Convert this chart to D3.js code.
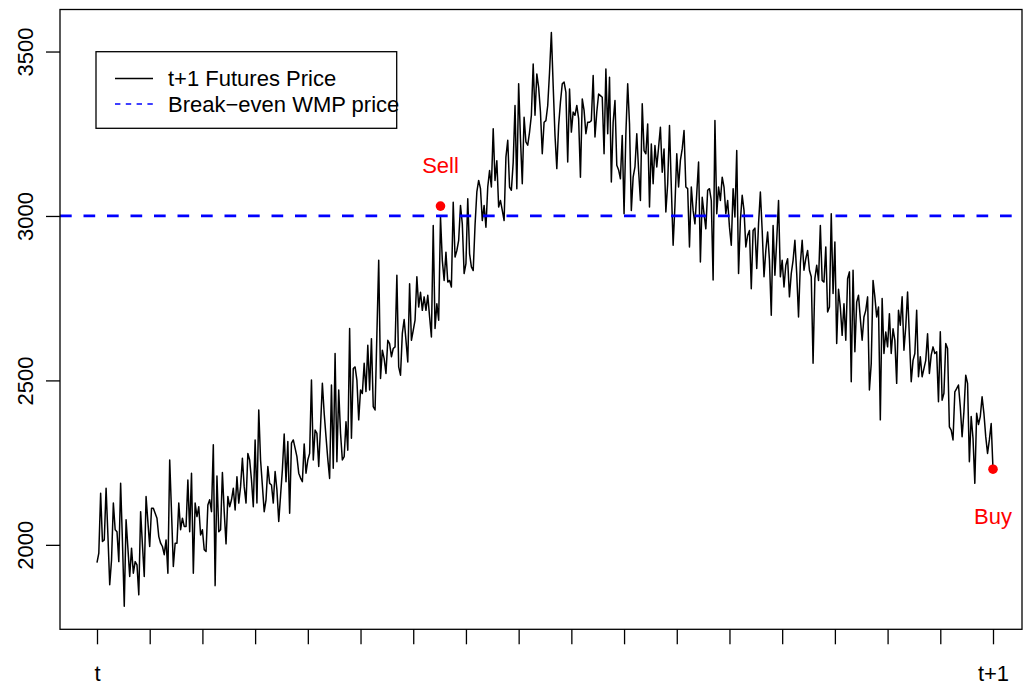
<!DOCTYPE html>
<html>
<head>
<meta charset="utf-8">
<script src="https://cdn.jsdelivr.net/npm/d3@7"></script>
<style>
  body { margin: 0; background: #fff; }
  svg { display: block; }
  text { font-family: "Liberation Sans", Arial, Helvetica, sans-serif; }
</style>
</head>
<body>
<svg id="chart" width="1025" height="685"></svg>
<script>
// ---------- DATA ----------
const price = [
  // t ... early period
  1946, 1975, 2157, 2010, 2015, 2172, 2030, 1879, 1954, 2127, 2046, 2040, 1949, 2187, 2010, 1813, 2076, 1990, 1904, 1990,
  1914, 1949, 1939, 1848, 2101, 2000, 1904, 2147, 2070, 1995, 2111, 2111, 2096, 2081, 2025, 2005, 1995, 1970, 2015, 1914,
  2258, 2100, 1934, 2005, 2005, 2127, 2046, 2081, 2056, 2056, 2197, 2040, 2218, 1914, 2127, 2086, 2116, 2030, 2046, 1985,
  1980, 2121, 2137, 2101, 2304,
  1876, 2209, 2040, 2046, 2220, 2100, 2003, 2147, 2116, 2137, 2172, 2106, 2207, 2127, 2177, 2263, 2177, 2127, 2278, 2258,
  2197, 2116, 2319, 2127, 2410, 2258, 2180, 2101, 2137, 2238, 2187, 2182, 2127, 2223, 2167, 2071, 2150, 2228, 2337, 2192,
  2314, 2096, 2309, 2319, 2294, 2268, 2218, 2203, 2192, 2307,
  2218, 2258, 2278, 2501, 2258, 2349, 2339, 2238, 2360, 2491, 2400, 2329, 2260, 2202, 2486, 2233, 2582, 2253, 2471, 2339,
  2258, 2268, 2374, 2288, 2658, 2324, 2536, 2541, 2501, 2380, 2471, 2460, 2552, 2466, 2607, 2471, 2627, 2420, 2410, 2640,
  2865, 2506, 2592, 2566, 2521, 2622, 2612, 2572, 2597, 2602, 2820, 2541, 2516, 2643, 2685, 2622, 2556, 2794,
  2622, 2652, 2683, 2815, 2723, 2768, 2713, 2754, 2713, 2759, 2693, 2632, 2971, 2658, 2733, 2683, 2997, 2865, 2804, 2890,
  2799, 2804, 2784, 3042, 2875, 2895, 2926, 3032, 2976, 2825, 2855, 3052, 2885, 2845, 2834, 2971, 3073, 3108, 3083, 2986,
  3032, 2966, 3088, 3138, 3088, 3265, 3108, 3168, 3027, 3047, 3017, 2986, 3179, 3230, 3088, 3078, 3163, 3336,
  3083, 3402, 3235, 3098, 3300, 3225, 3215, 3255, 3306, 3462, 3306, 3432, 3391, 3316, 3189, 3285, 3290, 3336, 3437, 3558,
  3396, 3245, 3144, 3275, 3346, 3402, 3407, 3376, 3164, 3386, 3255, 3316, 3306, 3336, 3296, 3118, 3356, 3321, 3250, 3285,
  3285, 3290, 3427, 3240, 3316, 3371, 3366, 3361, 3189, 3447, 3250, 3422, 3103, 3285, 3351, 3154, 3140,
  3113, 3245, 3007, 3250, 3402, 3280, 3017, 3118, 3149, 3250, 3138, 3047, 3341, 3199, 3189, 3280, 3027, 3219, 3098, 3214,
  3149, 3209, 3270, 3133, 3204, 3012, 3098, 3275, 3088, 2911, 3032, 3189, 3088, 3169, 3204, 3260, 3088, 3083, 2906, 3088,
  3017, 2976, 3068, 3164, 2860, 3057, 3007, 2961, 3078, 3083, 3047, 2805, 3290, 3007, 3088, 3047, 3118,
  3088, 3007, 3047, 2966, 2911, 3083, 2997, 3199, 2825, 2986, 3063, 3017, 2906, 2941, 2956, 2779, 2956, 2963, 2840, 2976,
  3073, 2956, 2815, 2895, 2951, 2865, 2698, 2971, 2820, 2926, 3047, 2815, 2865, 2784, 2850, 2870, 2754, 2825, 2865, 2926,
  2825, 2693, 2855, 2926, 2835, 2870, 2895, 2835, 2815, 2552, 2810, 2850, 2804, 2971, 2804, 2799, 2906, 2708,
  2723, 3007, 2764, 2921, 2612, 2777, 2723, 2637, 2733, 2622, 2809, 2830, 2496, 2835, 2587, 2738, 2759, 2688, 2622, 2693,
  2713, 2754, 2471, 2551, 2804, 2754, 2693, 2723, 2380, 2749, 2582, 2647, 2602, 2703, 2582, 2657, 2622, 2491, 2713, 2668,
  2754, 2592, 2663, 2769, 2632, 2496, 2561, 2582, 2713, 2511, 2572, 2511, 2536, 2561, 2642, 2521, 2577, 2602,
  2582, 2587, 2435, 2648, 2440, 2461, 2612, 2597, 2359, 2349, 2319, 2465, 2475, 2486, 2420, 2329, 2405, 2516, 2491, 2253,
  2390, 2324, 2187, 2400, 2366, 2390, 2450, 2400, 2329, 2278, 2319, 2369, 2230
  // ... t+1
];
const breakEven = 3000;
const yTicks = [2000, 2500, 3000, 3500];
const xTickCount = 18;
const xTickLabels = ["t", "", "", "", "", "", "", "", "", "", "", "", "", "", "", "", "", "t+1"];
const markerLabels = ["Sell", "Buy"];
const markerIndex = [189, 493];
const markerValue = [3030, 2230];
const legendLabels = ["t+1 Futures Price", "Break\u2212even WMP price"];

// ---------- LAYOUT ----------
const box = { left: 60, right: 1022, top: 9.5, bottom: 629.3 };
const FS = 22;
const svg = d3.select("#chart");

const N = price.length;
const x = d3.scaleLinear().domain([0, N - 1]).range([97, 993]);

const ext = d3.extent(price.concat(markerValue));
const pad = (ext[1] - ext[0]) * 0.04;
const y = d3.scaleLinear().domain([ext[0] - pad, ext[1] + pad]).range([box.bottom, box.top]);

// clip for plot region
svg.append("defs").append("clipPath").attr("id", "plotclip")
  .append("rect").attr("x", box.left).attr("y", box.top)
  .attr("width", box.right - box.left).attr("height", box.bottom - box.top);

const plot = svg.append("g").attr("clip-path", "url(#plotclip)");

// price line
plot.append("path")
  .datum(price)
  .attr("fill", "none")
  .attr("stroke", "#000")
  .attr("stroke-width", 1.5)
  .attr("stroke-linejoin", "round")
  .attr("d", d3.line().x((d, i) => x(i)).y(d => y(d)));

// break-even line
plot.append("line")
  .attr("x1", box.left).attr("x2", box.right)
  .attr("y1", y(breakEven)).attr("y2", y(breakEven))
  .attr("stroke", "#0000FF")
  .attr("stroke-width", 2.8)
  .attr("stroke-dasharray", "11.7,11.8");

// markers
markerIndex.forEach((mi, k) => {
  plot.append("circle")
    .attr("cx", x(mi)).attr("cy", y(markerValue[k]))
    .attr("r", 4.8).attr("fill", "#FF0000");
});
svg.append("text").attr("x", x(markerIndex[0])).attr("y", y(markerValue[0]) - 33)
  .attr("text-anchor", "middle").attr("font-size", FS).attr("fill", "#FF0000")
  .text(markerLabels[0]);
svg.append("text").attr("x", x(markerIndex[1])).attr("y", y(markerValue[1]) + 55)
  .attr("text-anchor", "middle").attr("font-size", FS).attr("fill", "#FF0000")
  .text(markerLabels[1]);

// frame
svg.append("rect")
  .attr("x", box.left).attr("y", box.top)
  .attr("width", box.right - box.left).attr("height", box.bottom - box.top)
  .attr("fill", "none").attr("stroke", "#000").attr("stroke-width", 1.3);

// x axis
const xTickVals = d3.range(xTickCount).map(k => k * (N - 1) / (xTickCount - 1));
const xAxis = d3.axisBottom(x)
  .tickValues(xTickVals)
  .tickSize(15)
  .tickFormat((d, i) => xTickLabels[i]);
const gx = svg.append("g").attr("transform", `translate(0,${box.bottom})`).call(xAxis);
gx.select(".domain").remove();
gx.selectAll(".tick line").attr("stroke", "#000").attr("stroke-width", 1.3);
gx.selectAll(".tick text")
  .attr("y", 52).attr("dy", 0)
  .attr("font-size", FS).attr("font-family", "Liberation Sans, Arial, sans-serif")
  .attr("fill", "#000");

// y axis
const yAxis = d3.axisLeft(y).tickValues(yTicks).tickSize(14).tickFormat(d3.format("d"));
const gy = svg.append("g").attr("transform", `translate(${box.left},0)`).call(yAxis);
gy.select(".domain").remove();
gy.selectAll(".tick line").attr("stroke", "#000").attr("stroke-width", 1.3);
gy.selectAll(".tick text")
  .attr("x", 0).attr("y", -27).attr("dy", 0)
  .attr("transform", "rotate(-90)")
  .attr("text-anchor", "middle")
  .attr("font-size", FS).attr("font-family", "Liberation Sans, Arial, sans-serif")
  .attr("fill", "#000");

// legend
const lg = svg.append("g");
lg.append("rect").attr("x", 96).attr("y", 51.7).attr("width", 300.7).attr("height", 76.6)
  .attr("fill", "#fff").attr("stroke", "#000").attr("stroke-width", 1.3);
const legY = [78.5, 104];
lg.append("line").attr("x1", 115).attr("x2", 153).attr("y1", legY[0]).attr("y2", legY[0])
  .attr("stroke", "#000").attr("stroke-width", 1.5);
lg.append("line").attr("x1", 115).attr("x2", 153).attr("y1", legY[1]).attr("y2", legY[1])
  .attr("stroke", "#0000FF").attr("stroke-width", 1.4).attr("stroke-dasharray", "5.4,5.4");
legendLabels.forEach((t, k) => {
  lg.append("text").attr("x", 168).attr("y", legY[k]).attr("dy", "0.35em")
    .attr("font-size", FS).attr("fill", "#000").text(t);
});
</script>
</body>
</html>
